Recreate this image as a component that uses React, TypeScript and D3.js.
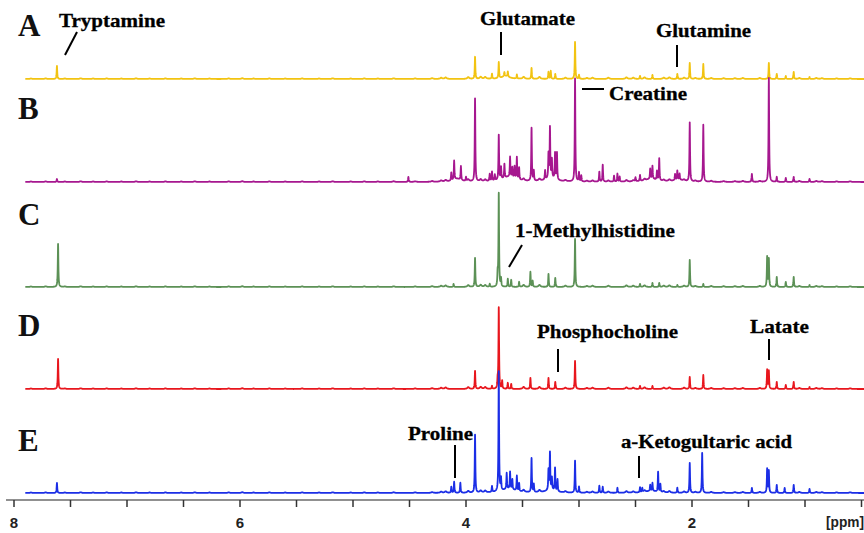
import React, { useMemo } from "react";
import * as d3 from "d3";

const W = 864;
const H = 533;

// [ppm, intensity, optional half-width in ppm]
type Peak = [number, number, number?];

const panelLetters = ["A", "B", "C", "D", "E"];
const panelColors = ["#f2c311", "#a6178f", "#5c9156", "#e8161d", "#1b2ee6"];

const peaksA: Peak[] = [
  [7.62, 13], [3.92, 22], [3.77, 5], [3.71, 16], [3.66, 4], [3.63, 5], [3.55, 4],
  [3.42, 11], [3.27, 7], [3.25, 8], [3.21, 5], [3.035, 37], [3.0, 4], [2.46, 3],
  [2.35, 4], [2.13, 5], [2.02, 16], [1.9, 15], [1.32, 16], [1.25, 5], [1.17, 3],
  [1.1, 7], [0.96, 2], [3.65, 3, 0.04],
];

const peaksB: Peak[] = [
  [7.62, 3], [4.51, 5], [4.13, 8], [4.105, 19], [4.045, 14], [4.0, 4], [3.92, 83],
  [3.79, 7], [3.77, 9], [3.745, 6], [3.71, 45], [3.69, 12], [3.66, 14], [3.61, 20],
  [3.59, 10], [3.57, 12], [3.55, 22], [3.53, 12], [3.42, 53], [3.4, 10], [3.3, 9],
  [3.27, 24], [3.257, 50], [3.24, 18], [3.212, 26], [3.195, 27], [3.035, 103],
  [3.0, 9], [2.98, 6], [2.82, 10], [2.79, 17], [2.69, 6], [2.66, 8], [2.64, 5],
  [2.5, 4], [2.46, 6], [2.37, 10], [2.35, 13], [2.31, 9], [2.29, 22], [2.15, 6],
  [2.13, 9], [2.11, 6], [2.02, 59], [1.9, 57], [1.47, 8], [1.32, 104], [1.25, 5],
  [1.17, 4], [1.1, 5], [0.96, 3],
  [4.08, 3, 0.04], [3.62, 5, 0.07], [3.25, 4, 0.05], [2.36, 3, 0.06], [2.12, 2, 0.05],
];

const peaksC: Peak[] = [
  [7.61, 43], [4.11, 3], [3.92, 29], [3.79, 3], [3.72, 12], [3.71, 93], [3.69, 8],
  [3.63, 8], [3.6, 7], [3.53, 5], [3.43, 15], [3.41, 6], [3.27, 13], [3.21, 9],
  [3.035, 48], [2.46, 3], [2.35, 4], [2.29, 4], [2.13, 2], [2.02, 27], [1.9, 3],
  [1.335, 30], [1.32, 28], [1.25, 10], [1.17, 5], [1.1, 10], [0.96, 2],
];

const peaksD: Peak[] = [
  [7.61, 30], [3.92, 18], [3.77, 3], [3.72, 8], [3.71, 81], [3.68, 8], [3.63, 6],
  [3.6, 5], [3.43, 11], [3.27, 11], [3.21, 7], [3.035, 28], [2.46, 3], [2.35, 3],
  [2.02, 12], [1.9, 14], [1.335, 19], [1.32, 18], [1.25, 7], [1.17, 4], [1.1, 7],
  [0.96, 2],
];

const peaksE: Peak[] = [
  [7.62, 10], [4.13, 6], [4.105, 11], [4.05, 10], [3.92, 58], [3.77, 6], [3.71, 120],
  [3.69, 12], [3.64, 16], [3.61, 17], [3.59, 10], [3.55, 15], [3.53, 8], [3.42, 34],
  [3.4, 8], [3.27, 20], [3.257, 37], [3.24, 12], [3.212, 23], [3.19, 12], [3.035, 32],
  [3.0, 6], [2.82, 7], [2.79, 6], [2.66, 5], [2.46, 5], [2.44, 4], [2.37, 6],
  [2.35, 8], [2.3, 20], [2.28, 8], [2.13, 5], [2.02, 30], [1.91, 40], [1.47, 5],
  [1.335, 24], [1.32, 22], [1.25, 8], [1.18, 5], [1.1, 8], [0.96, 4],
  [3.62, 4, 0.07], [3.25, 3, 0.05], [2.36, 2, 0.06],
];

// small features along every baseline
const ripple: Peak[] = [
  [7.85, 0.5], [7.72, 0.6], [7.55, 0.5], [7.41, 0.7], [7.3, 0.5], [7.18, 0.6], [7.05, 0.5],
  [6.92, 0.7], [6.8, 0.5], [6.66, 0.6], [6.52, 0.5], [6.4, 0.7], [6.27, 0.5], [6.1, 0.6],
  [5.98, 0.8], [5.88, 0.5], [5.74, 0.6], [5.6, 0.5], [5.45, 0.6], [5.3, 0.5], [5.18, 0.7],
  [5.02, 0.5], [4.9, 0.6], [4.78, 0.5], [4.64, 0.7], [4.45, 0.6], [4.3, 0.8], [4.22, 1.2],
  [4.18, 1.5], [3.98, 1.8], [3.87, 2], [3.83, 1.8], [3.49, 2], [3.35, 2], [3.12, 1.3],
  [2.93, 1], [2.88, 1.3], [2.74, 1.3], [2.58, 1.6], [2.52, 1.3], [2.42, 1.6], [2.25, 1.3],
  [2.2, 1.6], [2.07, 1.3], [1.97, 1], [1.83, 1], [1.72, 0.8], [1.62, 0.8], [1.55, 1],
  [1.4, 1], [1.05, 1], [0.9, 1], [0.85, 0.8], [0.72, 0.6], [0.6, 0.7],
];

const panelPeaks = [peaksA, peaksB, peaksC, peaksD, peaksE];

const tickValues = [8, 7.5, 7, 6.5, 6, 5.5, 5, 4.5, 4, 3.5, 3, 2.5, 2, 1.5, 1, 0.5];
const tickLabels = [8, 6, 4, 2];
const axisUnit = "[ppm]";

const annotationTexts = [
  "Tryptamine", "Glutamate", "Glutamine", "Creatine", "1-Methylhistidine",
  "Phosphocholine", "Latate", "Proline", "a-Ketogultaric acid",
];

// layout
const baselines = [79, 182, 287, 389, 493];
const letterBaselines = [36, 119, 225, 336, 451];
const axisY = 500;
const SHIFT_START = 7.9;
const SHIFT_END = 0.46;
const NARROW = 0.003;
const RIPPLE_W = 0.01;

// label placement: text x/baseline/width, leader line endpoints
const annotationLayout = [
  { x: 59, y: 27, w: 106, line: [77, 32, 65, 55] },
  { x: 480, y: 25, w: 95, line: [501, 32, 501, 55] },
  { x: 656, y: 37, w: 95, line: [677, 45, 677, 67] },
  { x: 609, y: 100, w: 78, line: [582, 89, 604, 89] },
  { x: 515, y: 237, w: 160, line: [522, 245, 509, 267] },
  { x: 537, y: 338, w: 141, line: [558, 349, 558, 372] },
  { x: 750, y: 333, w: 59, line: [769, 339, 769, 360] },
  { x: 408, y: 440, w: 65, line: [455, 445, 455, 478] },
  { x: 621, y: 448, w: 171, line: [639, 456, 639, 478] },
];

function spectrum(peaks: Peak[]): [number, number][] {
  const grid: number[] = [];
  for (let p = SHIFT_START; p >= SHIFT_END; p -= 0.0015) grid.push(p);
  peaks.forEach((pk) => grid.push(pk[0]));
  grid.sort((a, b) => b - a);
  const all = peaks.map((p) => [p[0], p[1], p[2] ?? NARROW] as number[])
    .concat(ripple.map((p) => [p[0], p[1], RIPPLE_W]));
  return grid.map((p) => {
    let v = 0;
    for (const [c, h, w] of all) {
      const d = p - c;
      v += (h * w * w) / (d * d + w * w);
    }
    return [p, v];
  });
}

export default function App() {
  const x = d3.scaleLinear().domain([8, 0.5]).range([14, 861.5]);

  const traces = useMemo(() => panelPeaks.map((pk) => spectrum(pk)), []);

  return (
    <svg
      width={W}
      height={H}
      viewBox={`0 0 ${W} ${H}`}
      style={{ position: "absolute", left: 0, top: 0, background: "#fff" }}
    >
      <rect width={W} height={H} fill="#fff" />
      {traces.map((data, i) => {
        const y = d3.scaleLinear().domain([0, 100]).range([baselines[i], baselines[i] - 100]);
        const line = d3
          .line<[number, number]>()
          .x((d) => x(d[0]))
          .y((d) => y(d[1]));
        return (
          <path
            key={i}
            d={line(data) ?? ""}
            fill="none"
            stroke={panelColors[i]}
            strokeWidth={1.8}
            strokeLinejoin="round"
          />
        );
      })}

      {panelLetters.map((l, i) => (
        <text
          key={l}
          x={18}
          y={letterBaselines[i]}
          fontFamily="'Liberation Serif', 'Times New Roman', serif"
          fontWeight="bold"
          fontSize={31}
          fill="#111"
        >
          {l}
        </text>
      ))}

      {annotationTexts.map((t, i) => {
        const a = annotationLayout[i];
        return (
          <g key={t}>
            <text
              x={a.x}
              y={a.y}
              fontFamily="'Liberation Serif', 'Times New Roman', serif"
              fontWeight="bold"
              fontSize={19}
              textLength={a.w}
              lengthAdjust="spacingAndGlyphs"
              fill="#000"
              stroke="#000"
              strokeWidth={0.3}
            >
              {t}
            </text>
            <line
              x1={a.line[0]}
              y1={a.line[1]}
              x2={a.line[2]}
              y2={a.line[3]}
              stroke="#000"
              strokeWidth={2}
            />
          </g>
        );
      })}

      <g>
        <line x1={6} x2={W} y1={axisY} y2={axisY} stroke="#6b6b6b" strokeWidth={1.6} />
        {tickValues.map((t) => (
          <line
            key={t}
            x1={x(t)}
            x2={x(t)}
            y1={axisY}
            y2={axisY + 7}
            stroke="#333"
            strokeWidth={1.5}
          />
        ))}
        {tickLabels.map((t) => (
          <text
            key={t}
            x={x(t)}
            y={528}
            textAnchor="middle"
            fontFamily="'Liberation Sans', Arial, sans-serif"
            fontWeight="bold"
            fontSize={15}
            fill="#222"
          >
            {t}
          </text>
        ))}
        <text
          x={864}
          y={527}
          textAnchor="end"
          fontFamily="'Liberation Sans', Arial, sans-serif"
          fontWeight="bold"
          fontSize={14}
          textLength={38}
          lengthAdjust="spacingAndGlyphs"
          fill="#222"
        >
          {axisUnit}
        </text>
      </g>
    </svg>
  );
}
